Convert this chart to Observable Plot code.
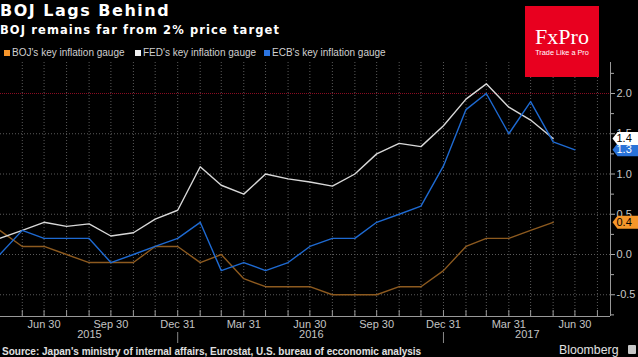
<!DOCTYPE html>
<html><head><meta charset="utf-8">
<script src="https://cdn.jsdelivr.net/npm/d3@7"></script>
<script src="https://cdn.jsdelivr.net/npm/@observablehq/plot@0.6"></script>
<style>
html,body{margin:0;padding:0;background:#000;}
#wrap{position:relative;width:638px;height:357px;overflow:hidden;background:#000;}
#chart{position:absolute;left:0;top:0;}
.t{position:absolute;white-space:nowrap;}
.sq{position:absolute;width:6px;height:6px;top:50px;}
.lg{position:absolute;top:46.5px;font:10px/12px "Liberation Sans",Arial,sans-serif;color:#d0d0d0;white-space:nowrap;}
</style></head><body>
<div id="wrap">
<div id="chart"></div>
<div class="t" style="left:0;top:3px;font:bold 16px/16px 'DejaVu Sans',sans-serif;letter-spacing:1.5px;color:#fff;">BOJ Lags Behind</div>
<div class="t" style="left:0;top:24.3px;font:bold 11.5px/12px 'DejaVu Sans',sans-serif;letter-spacing:1.1px;color:#fff;">BOJ remains far from 2% price target</div>
<div class="sq" style="left:4px;background:#f7962b;"></div><div class="lg" style="left:12px;">BOJ's key inflation gauge</div>
<div class="sq" style="left:135px;background:#f0f0f0;"></div><div class="lg" style="left:143px;">FED's key inflation gauge</div>
<div class="sq" style="left:264px;background:#2b74e0;"></div><div class="lg" style="left:272px;">ECB's key inflation gauge</div>
<div class="t" style="left:525px;top:6px;width:74px;height:71px;background:#e8001f;">
  <div class="t" style="left:0;width:74px;top:19.6px;text-align:center;font:22px/22px 'Liberation Serif',serif;color:#fff;">FxPro</div>
  <div class="t" style="left:0;width:74px;top:41.8px;text-align:center;font:7.3px/9px 'Liberation Sans',Arial,sans-serif;color:#fff;">Trade Like a Pro</div>
</div>
<div class="t" style="left:2px;top:345.5px;font:bold 10px/12px 'Liberation Sans',Arial,sans-serif;color:#e0e0e0;">Source: Japan's ministry of internal affairs, Eurostat, U.S. bureau of ecconomic analysis</div>
<div class="t" style="left:559px;top:342.7px;font:12.3px/14px 'Liberation Sans',Arial,sans-serif;color:#e0e0e0;">Bloomberg</div>
<div class="t" style="left:628px;top:345px;width:8px;height:9px;background:#c8c8c8;border-radius:1px;"></div>
</div>
<script>
// Month-end observation dates
const dates = ["2015-04-30","2015-05-31","2015-06-30","2015-07-31","2015-08-31","2015-09-30","2015-10-31","2015-11-30","2015-12-31",
  "2016-01-31","2016-02-29","2016-03-31","2016-04-30","2016-05-31","2016-06-30","2016-07-31","2016-08-31","2016-09-30","2016-10-31","2016-11-30","2016-12-31",
  "2017-01-31","2017-02-28","2017-03-31","2017-04-30","2017-05-31","2017-06-30"];
const bojValues = [0.3,0.1,0.1,0.0,-0.1,-0.1,-0.1,0.1,0.1,-0.1,0.0,-0.3,-0.4,-0.4,-0.4,-0.5,-0.5,-0.5,-0.4,-0.4,-0.2,0.1,0.2,0.2,0.3,0.4,null];
const fedValues = [0.2,0.3,0.4,0.35,0.38,0.23,0.27,0.44,0.55,1.09,0.86,0.75,1.0,0.94,0.9,0.85,1.0,1.25,1.38,1.34,1.6,1.93,2.12,1.83,1.67,1.44,null];
const ecbValues = [0.0,0.3,0.2,0.2,0.2,-0.1,0.0,0.1,0.2,0.4,-0.2,-0.1,-0.2,-0.1,0.1,0.2,0.2,0.4,0.5,0.6,1.1,1.8,2.0,1.5,1.9,1.4,1.3];
const seriesNames = ["BOJ's key inflation gauge","FED's key inflation gauge","ECB's key inflation gauge"];
const quarterTicks = ["2015-06-30","2015-09-30","2015-12-31","2016-03-31","2016-06-30","2016-09-30","2016-12-31","2017-03-31","2017-06-30"];
const yearLabels = ["2015","2016","2017"];
const yTicks = [-0.5,0,0.5,1,1.5,2];
const yMinorTicks = [-0.75,-0.25,0.25,0.75,1.25,1.75,2.25];
const target = 2;

const parse = d3.utcParse("%Y-%m-%d");
const xDomain = [parse("2015-05-01"), parse("2017-08-18")];
const yDomain = [-0.77, 2.385];

function rows(values){ return dates.map((d,i)=>({date:parse(d), value:values[i]})).filter(r=>r.value!=null); }
const boj = rows(bojValues), fed = rows(fedValues), ecb = rows(ecbValues);

const monthEnds = d3.utcMonth.range(parse("2015-06-01"), parse("2017-08-02")).map(d=>d3.utcDay.offset(d,-1));
const qTicks = quarterTicks.map(parse);
const years = yearLabels.map(y=>{
  const a = new Date(Math.max(+parse(y+"-01-01"), +xDomain[0]));
  const b = new Date(Math.min(+parse((+y+1)+"-01-01"), +xDomain[1]));
  return {label:y, date:new Date((+a + +b)/2)};
});
const yearBreaks = yearLabels.slice(1).map(y=>d3.utcDay.offset(parse(y+"-01-01"),-1));

const colors = {boj:"#8d5a1f", fed:"#d8d8d8", ecb:"#1e6ad2"};
const last = a => a[a.length-1];
const tags = [
  {row:last(boj), fill:"#f5962a", text:"#000"},
  {row:last(ecb), fill:"#2a72d8", text:"#fff"},
  {row:last(fed), fill:"#ffffff", text:"#000"}
];
const tagSymbol = {draw(ctx){ ctx.moveTo(2,0); ctx.lineTo(7,-6.5); ctx.lineTo(30,-6.5); ctx.lineTo(30,6.5); ctx.lineTo(7,6.5); ctx.closePath(); }};

const grid = {stroke:"#5a5a5a", strokeDasharray:"1,2", strokeWidth:1};
const marks = [
  Plot.ruleX(monthEnds, grid),
  Plot.ruleY(yTicks.filter(v=>v!==target), grid),
  Plot.ruleY([target], {stroke:"#8a0c22", strokeDasharray:"1,1", strokeWidth:1.2}),
  Plot.line(boj, {x:"date", y:"value", stroke:colors.boj, strokeWidth:1.4, clip:true}),
  Plot.line(fed, {x:"date", y:"value", stroke:colors.fed, strokeWidth:1.4, clip:true}),
  Plot.line(ecb, {x:"date", y:"value", stroke:colors.ecb, strokeWidth:1.4, clip:true}),
  Plot.tickX(monthEnds, {x:d=>d, stroke:"#999", insetTop:248}),
  Plot.ruleY([yDomain[0]], {stroke:"#999"}),
  Plot.ruleX([xDomain[1]], {stroke:"#999"}),
  Plot.axisX({ticks:qTicks, tickSize:0, tickPadding:4, tickFormat:d3.utcFormat("%b %d"), fill:"#c4c4c4", label:null}),
  Plot.text(years, {x:"date", text:"label", frameAnchor:"bottom", dy:21, fill:"#c4c4c4", fontSize:11}),
  Plot.ruleX(yearBreaks, {stroke:"#888", insetTop:243, dy:27}),
  Plot.axisY({anchor:"right", ticks:yTicks, tickSize:4, tickPadding:2, tickFormat:d=>d.toFixed(1), fill:"#c8c8c8", stroke:"#aaa", label:null}),
  Plot.axisY({anchor:"right", ticks:yMinorTicks, tickSize:3, text:null, stroke:"#aaa", label:null}),
];
for (const t of tags) {
  marks.push(Plot.dot([t.row], {x:()=>xDomain[1], y:"value", symbol:tagSymbol, fill:t.fill, stroke:"none"}));
  marks.push(Plot.text([t.row], {x:()=>xDomain[1], y:"value", text:d=>d.value.toFixed(1), dx:6, textAnchor:"start", fill:t.text, fontSize:11}));
}

const chart = Plot.plot({
  width:638, height:357,
  marginTop:62, marginBottom:41, marginLeft:0, marginRight:28,
  x:{type:"utc", domain:xDomain, label:null},
  y:{domain:yDomain, label:null},
  style:{background:"#000", color:"#c4c4c4", fontFamily:"'Liberation Sans', Arial, sans-serif", fontSize:"11px", overflow:"visible"},
  marks
});
document.getElementById("chart").appendChild(chart);
</script>
</body></html>
